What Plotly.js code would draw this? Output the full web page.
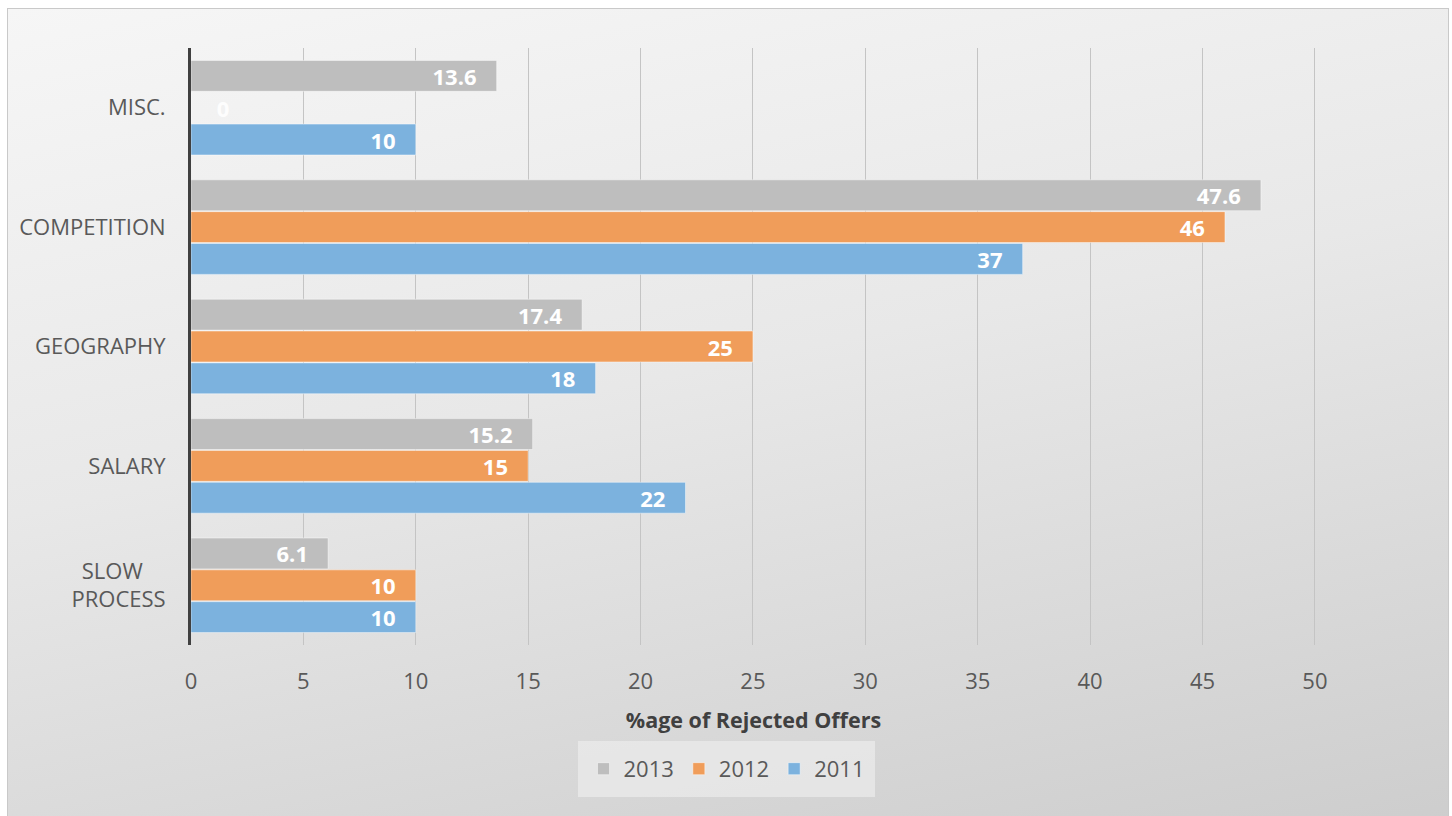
<!DOCTYPE html>
<html>
<head>
<meta charset="utf-8">
<script src="https://cdn.plot.ly/plotly-3.0.1.min.js"></script>
<style>
  html, body { margin: 0; padding: 0; background: #ffffff; overflow: hidden; }
  #frame {
    position: absolute; left: 7px; top: 8px; width: 1440px; height: 820px;
    border: 1.5px solid #c9c9c9;
    background: linear-gradient(168deg, #f6f6f6 0%, #e8e8e8 45%, #cdcdcd 100%);
  }
  #chart { position: absolute; left: 0; top: 0; width: 1452px; height: 816px; }
</style>
</head>
<body>
<div id="frame"></div>
<div id="chart"></div>
<script>
// Categories, bottom to top
const categories = ['SLOW PROCESS', 'SALARY', 'GEOGRAPHY', 'COMPETITION', 'MISC.'];
const tickLabels = ['SLOW\u00a0\u00a0\u00a0\u00a0<br>PROCESS', 'SALARY', 'GEOGRAPHY', 'COMPETITION', 'MISC.'];
const years = ['2011', '2012', '2013'];
const values2011 = [10, 22, 18, 37, 10];
const values2012 = [10, 15, 25, 46, 0];
const values2013 = [6.1, 15.2, 17.4, 47.6, 13.6];
const colors = { '2011': '#7cb2de', '2012': '#f09d5a', '2013': '#bebebe' };
const xTicks = [0, 5, 10, 15, 20, 25, 30, 35, 40, 45, 50];

const FONT = 'Open Sans, Liberation Sans, sans-serif';
const PAD = '\u00a0\u00a0\u00a0';

function makeTrace(name, vals) {
  return {
    type: 'bar',
    orientation: 'h',
    name: name,
    y: categories,
    x: vals,
    text: vals.map(v => v > 0 ? String(v) + PAD : PAD + '\u00a0' + String(v)),
    textposition: vals.map(v => v > 0 ? 'inside' : 'outside'),
    insidetextanchor: 'end',
    constraintext: 'none',
    cliponaxis: false,
    textfont: { family: FONT, size: 22, color: '#ffffff', weight: 'bold' },
    outsidetextfont: { family: FONT, size: 22, color: 'rgba(255,255,255,0.9)', weight: 'bold' },
    marker: { color: colors[name], line: { color: 'rgba(255,255,255,0.45)', width: 1 } },
    hoverinfo: 'x+name'
  };
}

const data = [
  makeTrace('2011', values2011),
  makeTrace('2012', values2012),
  makeTrace('2013', values2013)
];

const layout = {
  width: 1452,
  height: 816,
  paper_bgcolor: 'rgba(0,0,0,0)',
  plot_bgcolor: 'rgba(0,0,0,0)',
  margin: { l: 191, r: 136, t: 48, b: 171, pad: 0 },
  barmode: 'group',
  bargap: 0.2,
  bargroupgap: 0.03,
  font: { family: FONT, color: '#595959', size: 22 },
  xaxis: {
    range: [0, 50.05],
    tickvals: xTicks,
    ticktext: xTicks.map(String),
    showgrid: true,
    gridcolor: '#c4c4c4',
    gridwidth: 1,
    zeroline: false,
    showline: false,
    ticks: 'outside',
    ticklen: 17,
    tickcolor: 'rgba(0,0,0,0)',
    tickfont: { family: FONT, size: 22, color: '#595959' },
    title: {
      text: '%age of Rejected Offers',
      font: { family: FONT, size: 21.5, color: '#404040', weight: 'bold' },
      standoff: 18
    },
    fixedrange: true
  },
  yaxis: {
    type: 'category',
    categoryorder: 'array',
    categoryarray: categories,
    tickvals: categories,
    ticktext: tickLabels,
    showline: true,
    linecolor: '#404040',
    linewidth: 3,
    showgrid: false,
    zeroline: false,
    ticks: 'outside',
    ticklen: 18,
    tickcolor: 'rgba(0,0,0,0)',
    tickfont: { family: FONT, size: 22, color: '#595959' },
    fixedrange: true
  },
  shapes: [{
    type: 'rect', xref: 'paper', yref: 'paper', layer: 'below',
    x0: 0.344, x1: 0.608, y0: -0.2546, y1: -0.1608,
    fillcolor: 'rgba(240,240,240,0.6)', line: { width: 0 }
  }],
  showlegend: true,
  legend: {
    orientation: 'h',
    traceorder: 'reversed',
    x: 0.476,
    xanchor: 'center',
    y: -0.2075,
    yanchor: 'middle',
    bgcolor: 'rgba(0,0,0,0)',
    borderwidth: 0,
    font: { family: FONT, size: 22, color: '#595959' }
  }
};

Plotly.newPlot('chart', data, layout, { displayModeBar: false, staticPlot: true });
</script>
</body>
</html>
